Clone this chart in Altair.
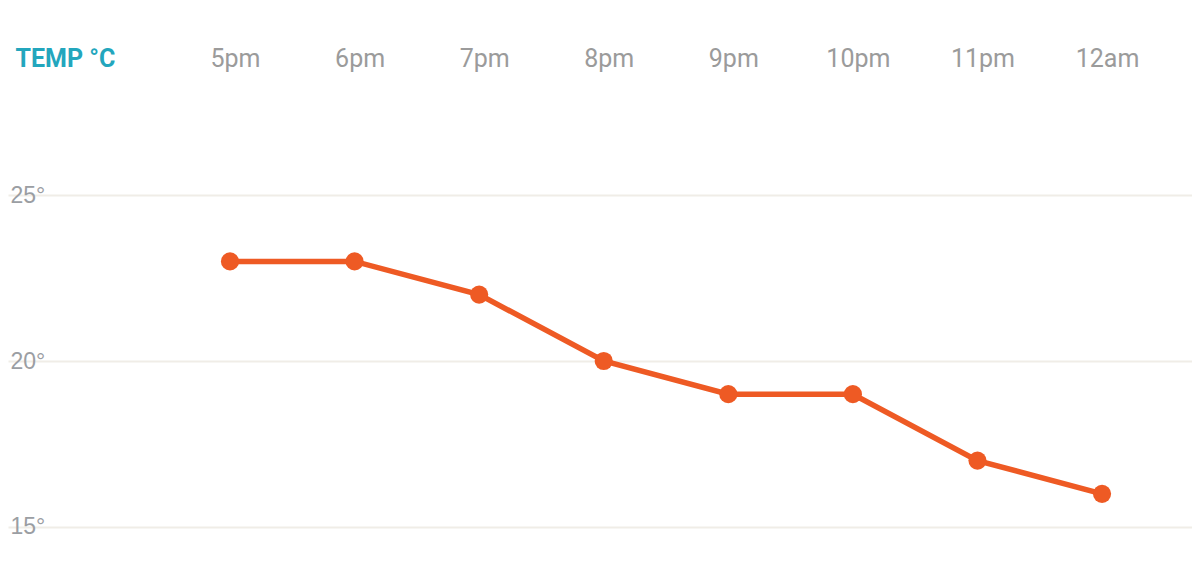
import altair as alt
import pandas as pd

hours = ["5pm", "6pm", "7pm", "8pm", "9pm", "10pm", "11pm", "12am"]
temps = [23, 23, 22, 20, 19, 19, 17, 16]
y_ticks = [15, 20, 25]

df = pd.DataFrame({"i": list(range(len(hours))), "hour": hours, "temp": temps})

label_expr = "[" + ",".join(f"'{h}'" for h in hours) + "][datum.value]"

x = alt.X(
    "i:Q",
    scale=alt.Scale(domain=[-1.782, 7.722], nice=False, zero=False),
    axis=alt.Axis(
        orient="top", values=list(range(len(hours))), labelExpr=label_expr,
        grid=False, domain=False, ticks=False, tickSize=0,
        labelFont="Roboto", labelFontSize=25, labelColor="#9b9b9b",
        labelBaseline="middle", labelPadding=22, labelOffset=5, title=None,
    ),
)
y = alt.Y(
    "temp:Q",
    scale=alt.Scale(domain=[14.006, 28.464], nice=False, zero=False),
    axis=alt.Axis(
        values=y_ticks, labelExpr="datum.value + '°'",
        grid=True, gridColor="#f0ede7", gridWidth=2,
        domain=False, ticks=False, tickSize=0,
        labelAlign="left", labelBaseline="middle", labelPadding=-2,
        labelFont="Liberation Sans", labelFontSize=23, labelColor="#9b9ea3",
        title="TEMP °C", titleAngle=0, titleX=7, titleY=-22,
        titleAlign="left", titleBaseline="middle",
        titleFont="Roboto", titleFontSize=25, titleFontWeight="bold",
        titleColor="#23a6bd",
    ),
)

base = alt.Chart(df).encode(x=x, y=y)
line = base.mark_line(color="#ee5a24", strokeWidth=5.5)
pts = base.mark_circle(color="#ee5a24", size=330, opacity=1)

chart = (line + pts).properties(
    width=1184, height=480,
    autosize=alt.AutoSizeParams(type="none"),
    padding={"left": 0, "top": 72, "right": 0, "bottom": 0},
).configure(background="white").configure_view(strokeWidth=0, stroke="transparent")

chart.save("out.html", embed_options={"renderer": "svg", "actions": False})
